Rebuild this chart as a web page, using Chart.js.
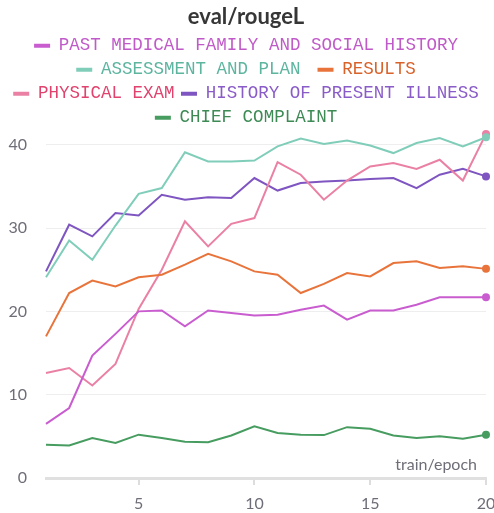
<!DOCTYPE html>
<html>
<head>
<meta charset="utf-8">
<script src="https://cdn.jsdelivr.net/npm/chart.js@4.4.1/dist/chart.umd.min.js"></script>
<style>
  html, body { margin: 0; padding: 0; background: #fff; }
  #wrap { width: 494px; height: 513px; }
</style>
</head>
<body>
<div id="wrap"><canvas id="chart"></canvas></div>
<script>
// Data
const epochs = [1, 2, 3, 4, 5, 6, 7, 8, 9, 10, 11, 12, 13, 14, 15, 16, 17, 18, 19, 20];
const pastMedical = [6.5, 8.4, 14.7, 17.3, 20.0, 20.1, 18.2, 20.1, 19.8, 19.5, 19.6, 20.2, 20.7, 19.0, 20.1, 20.1, 20.8, 21.7, 21.7, 21.7];
const assessment = [24.1, 28.5, 26.2, 30.3, 34.1, 34.8, 39.1, 38.0, 38.0, 38.1, 39.8, 40.75, 40.1, 40.5, 39.9, 39.0, 40.2, 40.8, 39.8, 40.9];
const results = [17.0, 22.2, 23.7, 23.0, 24.1, 24.4, 25.6, 26.9, 26.0, 24.8, 24.4, 22.2, 23.3, 24.6, 24.2, 25.8, 26.0, 25.2, 25.4, 25.1];
const physicalExam = [12.6, 13.2, 11.1, 13.7, 20.3, 25.0, 30.8, 27.8, 30.5, 31.2, 37.9, 36.4, 33.4, 35.7, 37.4, 37.8, 37.1, 38.2, 35.7, 41.3];
const historyPresent = [24.8, 30.4, 29.0, 31.8, 31.5, 34.0, 33.4, 33.7, 33.6, 36.0, 34.5, 35.4, 35.6, 35.7, 35.9, 36.0, 34.8, 36.4, 37.1, 36.2];
const chiefComplaint = [4.0, 3.9, 4.8, 4.2, 5.2, 4.8, 4.35, 4.3, 5.1, 6.2, 5.4, 5.2, 5.15, 6.1, 5.9, 5.1, 4.8, 5.0, 4.7, 5.2];

const seriesNames = ["PAST MEDICAL FAMILY AND SOCIAL HISTORY", "ASSESSMENT AND PLAN", "RESULTS",
    "PHYSICAL EXAM", "HISTORY OF PRESENT ILLNESS", "CHIEF COMPLAINT"];
const seriesValues = [pastMedical, assessment, results, physicalExam, historyPresent, chiefComplaint];
const xTicks = [5, 10, 15, 20];
const yTicks = [0, 10, 20, 30, 40];

const lineColors = ["#c95dd0", "#80ceba", "#e8743b", "#ea80a3", "#7e55c1", "#479c60"];
const textColors = ["#c05ac8", "#5db5a0", "#d9622b", "#e0446e", "#8a5cc8", "#3d8a55"];

const datasets = seriesNames.map(function (name, i) {
    return {
        label: name,
        data: seriesValues[i].map(function (v, j) { return { x: epochs[j], y: v }; }),
        borderColor: lineColors[i],
        backgroundColor: lineColors[i],
        borderWidth: 2,
        tension: 0,
        clip: false,
        pointRadius: function (ctx) { return ctx.dataIndex === epochs.length - 1 ? 4 : 0; },
        pointBorderWidth: 0,
        pointBackgroundColor: lineColors[i]
    };
});

// x axis title sits inside the plot, bottom right
const epochLabel = {
    id: "epochLabel",
    afterDraw(chart) {
        const { ctx, chartArea } = chart;
        ctx.save();
        ctx.font = "16px Lato";
        ctx.fillStyle = "#6e6e78";
        ctx.textAlign = "right";
        ctx.textBaseline = "middle";
        ctx.fillText("train/epoch", chartArea.right - 9, chartArea.bottom - 13);
        ctx.restore();
    }
};

new Chart(document.getElementById("chart"), {
    type: "line",
    data: { datasets: datasets },
    plugins: [epochLabel],
    options: {
        responsive: true,
        maintainAspectRatio: false,
        animation: false,
        layout: { padding: { left: 0, right: 2, top: 0, bottom: 0 } },
        plugins: {
            tooltip: { enabled: false },
            title: {
                display: true,
                text: "eval/rougeL",
                color: "#363636",
                font: { family: "Lato", size: 22, weight: "bold" },
                padding: { top: 4, bottom: 0 }
            },
            legend: {
                display: true,
                labels: {
                    font: { family: "Liberation Mono", size: 17.5 },
                    boxWidth: 16,
                    boxHeight: 4,
                    padding: 6.5,
                    generateLabels: function (chart) {
                        return chart.data.datasets.map(function (ds, i) {
                            // a trailing space widens the gap before the next item on row 2
                            return {
                                text: i === 1 ? ds.label + " " : ds.label,
                                fillStyle: lineColors[i],
                                strokeStyle: lineColors[i],
                                lineWidth: 0,
                                fontColor: textColors[i],
                                datasetIndex: i
                            };
                        });
                    }
                }
            }
        },
        scales: {
            x: {
                type: "linear",
                min: 1,
                max: 20,
                afterBuildTicks: function (scale) {
                    scale.ticks = xTicks.map(function (v) { return { value: v }; });
                },
                afterFit: function (scale) {
                    scale.height = 35;
                    scale.paddingLeft = 0;
                    scale.paddingRight = 8;
                },
                grid: { drawOnChartArea: false, drawTicks: true, tickLength: 7, color: "#dddddd", lineWidth: 2 },
                border: { display: true, color: "#e0e0e0", width: 3 },
                ticks: { color: "#6e6e78", font: { family: "Lato", size: 16 }, padding: 9, maxRotation: 0 }
            },
            y: {
                min: 0,
                max: 41,
                afterBuildTicks: function (scale) {
                    scale.ticks = yTicks.map(function (v) { return { value: v }; });
                },
                afterFit: function (scale) { scale.width = 46; },
                grid: { color: "#eeeeee", lineWidth: 1, drawTicks: false },
                border: { display: false },
                ticks: { color: "#6e6e78", font: { family: "Lato", size: 16 }, padding: 19 }
            }
        }
    }
});
</script>
</body>
</html>
